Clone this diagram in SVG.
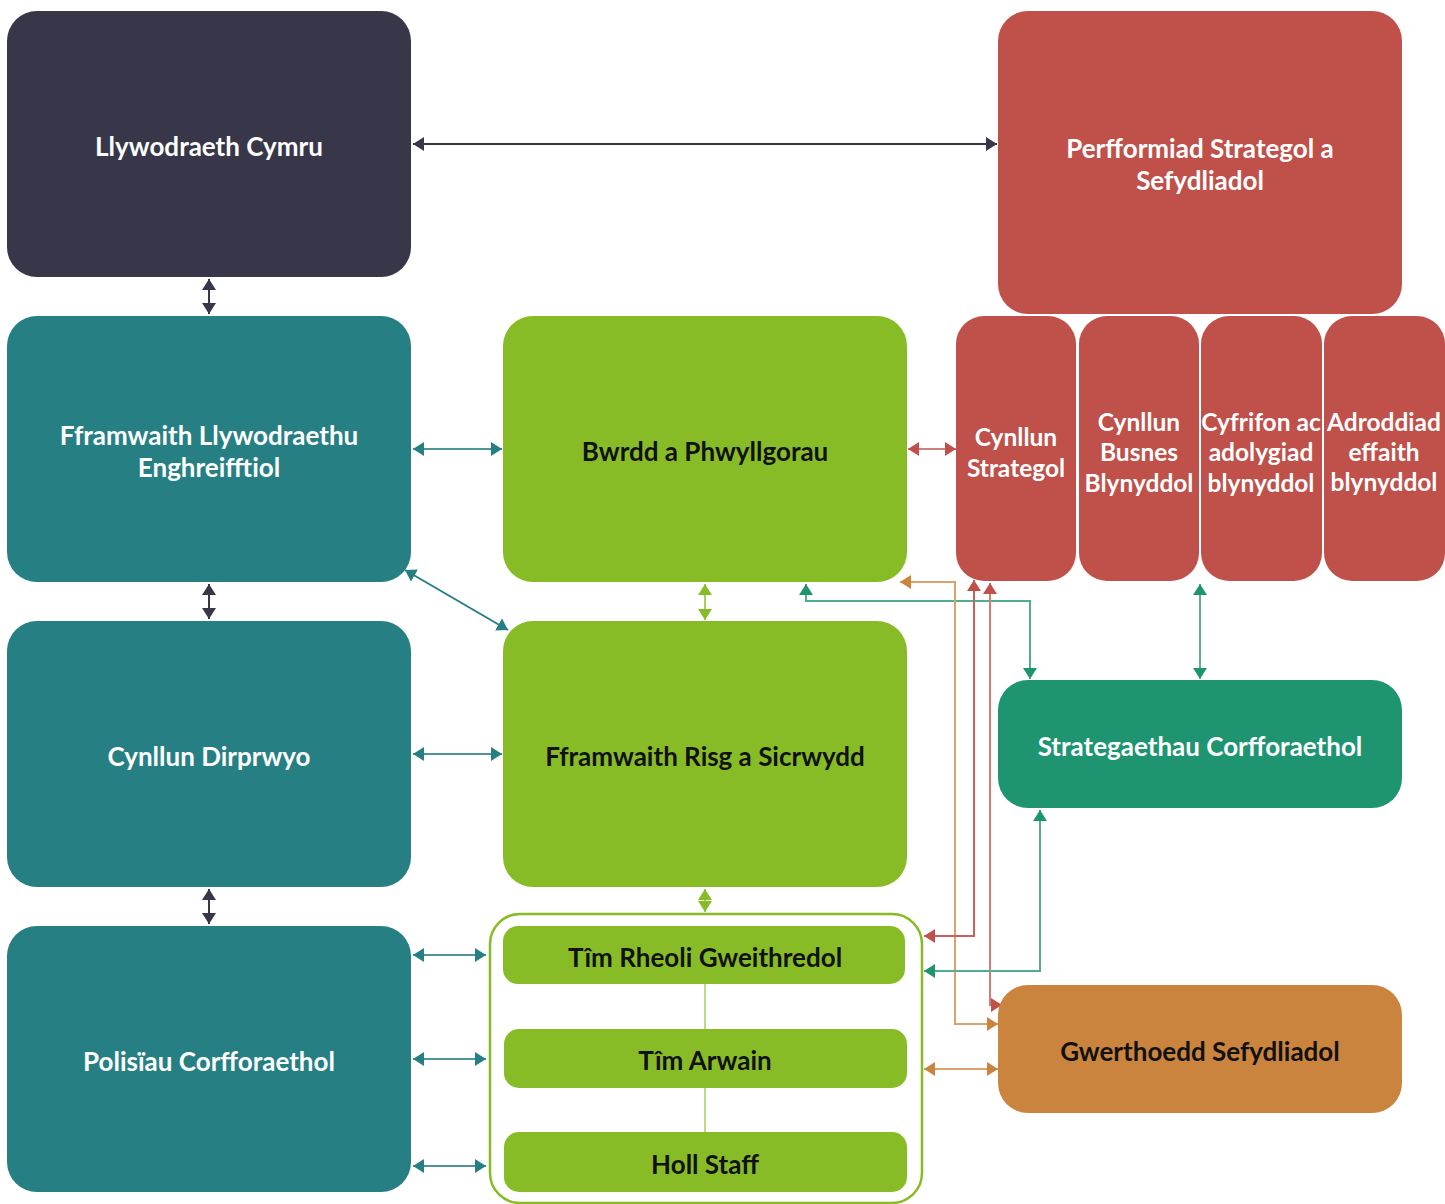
<svg xmlns="http://www.w3.org/2000/svg" width="1445" height="1204" viewBox="0 0 1445 1204">
<style>
.t{font-family:Lato,"Open Sans","Liberation Sans",sans-serif;font-weight:700;font-size:26px;text-anchor:middle;dominant-baseline:central}
.w{fill:#ffffff}
.k{fill:#111111}
.s{font-size:24.5px}
.c{fill:none;stroke-width:2}
</style>
<defs>
<marker id="mD" viewBox="0 0 11 14" refX="11" refY="7" markerWidth="11" markerHeight="14" markerUnits="userSpaceOnUse" orient="auto-start-reverse"><path d="M0,0L11,7L0,14z" fill="#373749"/></marker>
<marker id="mT" viewBox="0 0 11 14" refX="11" refY="7" markerWidth="11" markerHeight="14" markerUnits="userSpaceOnUse" orient="auto-start-reverse"><path d="M0,0L11,7L0,14z" fill="#267F83"/></marker>
<marker id="mG" viewBox="0 0 11 14" refX="11" refY="7" markerWidth="11" markerHeight="14" markerUnits="userSpaceOnUse" orient="auto-start-reverse"><path d="M0,0L11,7L0,14z" fill="#88BC27"/></marker>
<marker id="mR" viewBox="0 0 11 14" refX="11" refY="7" markerWidth="11" markerHeight="14" markerUnits="userSpaceOnUse" orient="auto-start-reverse"><path d="M0,0L11,7L0,14z" fill="#C0504A"/></marker>
<marker id="mE" viewBox="0 0 11 14" refX="11" refY="7" markerWidth="11" markerHeight="14" markerUnits="userSpaceOnUse" orient="auto-start-reverse"><path d="M0,0L11,7L0,14z" fill="#1E9470"/></marker>
<marker id="mO" viewBox="0 0 11 14" refX="11" refY="7" markerWidth="11" markerHeight="14" markerUnits="userSpaceOnUse" orient="auto-start-reverse"><path d="M0,0L11,7L0,14z" fill="#CB843E"/></marker>
</defs>

<g id="connectors">
<line class="c" x1="413" y1="144" x2="997" y2="144" stroke="#373749" marker-start="url(#mD)" marker-end="url(#mD)"/>
<line class="c" x1="209" y1="279" x2="209" y2="314" stroke="#373749" marker-start="url(#mD)" marker-end="url(#mD)"/>
<line class="c" x1="209" y1="584" x2="209" y2="619" stroke="#373749" marker-start="url(#mD)" marker-end="url(#mD)"/>
<line class="c" x1="209" y1="889" x2="209" y2="924" stroke="#373749" marker-start="url(#mD)" marker-end="url(#mD)"/>
<line class="c" x1="413" y1="449" x2="502" y2="449" stroke="#4E9599" marker-start="url(#mT)" marker-end="url(#mT)"/>
<line class="c" x1="405" y1="570" x2="508" y2="630" stroke="#267F83" marker-start="url(#mT)" marker-end="url(#mT)"/>
<line class="c" x1="413" y1="754" x2="502" y2="754" stroke="#4E9599" marker-start="url(#mT)" marker-end="url(#mT)"/>
<line class="c" x1="413" y1="955" x2="486" y2="955" stroke="#4E9599" marker-start="url(#mT)" marker-end="url(#mT)"/>
<line class="c" x1="413" y1="1059" x2="486" y2="1059" stroke="#4E9599" marker-start="url(#mT)" marker-end="url(#mT)"/>
<line class="c" x1="413" y1="1166" x2="486" y2="1166" stroke="#4E9599" marker-start="url(#mT)" marker-end="url(#mT)"/>
<line class="c" x1="908" y1="449" x2="956" y2="449" stroke="#D0807B" marker-start="url(#mR)" marker-end="url(#mR)"/>
<line class="c" x1="705" y1="584" x2="705" y2="620" stroke="#A6CF5E" marker-start="url(#mG)" marker-end="url(#mG)"/>
<line class="c" x1="705" y1="889" x2="705" y2="912" stroke="#A6CF5E" marker-start="url(#mG)" marker-end="url(#mG)"/>
<line class="c" x1="1200" y1="584" x2="1200" y2="679" stroke="#5BB195" marker-start="url(#mE)" marker-end="url(#mE)"/>
<polyline class="c" points="806,584 806,601 1030,601 1030,679" stroke="#4FAE92" marker-start="url(#mE)" marker-end="url(#mE)"/>
<polyline class="c" points="900,582 955,582 955,1024 998,1024" stroke="#DBA26D" marker-start="url(#mO)" marker-end="url(#mO)"/>
<polyline class="c" points="974,580 974,936 924,936" stroke="#C9605A" marker-start="url(#mR)" marker-end="url(#mR)"/>
<polyline class="c" points="990,583 990,1005 1002,1005" stroke="#D57A75" marker-start="url(#mR)" marker-end="url(#mR)"/>
<polyline class="c" points="1040,810 1040,971 924,971" stroke="#4FAE92" marker-start="url(#mE)" marker-end="url(#mE)"/>
<line class="c" x1="924" y1="1069" x2="998" y2="1069" stroke="#DBA26D" marker-start="url(#mO)" marker-end="url(#mO)"/>
<line x1="705" y1="984" x2="705" y2="1029" stroke="#A6CF5E" stroke-width="1.5"/>
<line x1="705" y1="1088" x2="705" y2="1132" stroke="#A6CF5E" stroke-width="1.5"/>
</g>

<g id="n-llywodraeth"><rect x="7" y="11" width="404" height="266" rx="30" fill="#373749"/><text class="t w" x="209" y="146">Llywodraeth Cymru</text></g>
<g id="n-perfformiad"><rect x="998" y="11" width="404" height="303" rx="30" fill="#C0504A"/><text class="t w" x="1200" y="148">Perfformiad Strategol a</text><text class="t w" x="1200" y="180">Sefydliadol</text></g>
<g id="n-fframwaith-llyw"><rect x="7" y="316" width="404" height="266" rx="30" fill="#267F83"/><text class="t w" x="209" y="435">Fframwaith Llywodraethu</text><text class="t w" x="209" y="467">Enghreifftiol</text></g>
<g id="n-bwrdd"><rect x="503" y="316" width="404" height="266" rx="30" fill="#88BC27"/><text class="t k" x="705" y="451">Bwrdd a Phwyllgorau</text></g>
<g id="n-cynllun-strategol"><rect x="956" y="316" width="120" height="265" rx="28" fill="#C0504A"/><text class="t w s" x="1016" y="436">Cynllun</text><text class="t w s" x="1016" y="467">Strategol</text></g>
<g id="n-cynllun-busnes"><rect x="1079" y="316" width="120" height="265" rx="28" fill="#C0504A"/><text class="t w s" x="1139" y="421">Cynllun</text><text class="t w s" x="1139" y="451">Busnes</text><text class="t w s" x="1139" y="482">Blynyddol</text></g>
<g id="n-cyfrifon"><rect x="1201" y="316" width="121" height="265" rx="28" fill="#C0504A"/><text class="t w s" x="1261" y="421">Cyfrifon ac</text><text class="t w s" x="1261" y="451">adolygiad</text><text class="t w s" x="1261" y="482">blynyddol</text></g>
<g id="n-adroddiad"><rect x="1324" y="316" width="121" height="265" rx="28" fill="#C0504A"/><text class="t w s" x="1384" y="421">Adroddiad</text><text class="t w s" x="1384" y="451">effaith</text><text class="t w s" x="1384" y="481">blynyddol</text></g>
<g id="n-dirprwyo"><rect x="7" y="621" width="404" height="266" rx="30" fill="#267F83"/><text class="t w" x="209" y="756">Cynllun Dirprwyo</text></g>
<g id="n-risg"><rect x="503" y="621" width="404" height="266" rx="30" fill="#88BC27"/><text class="t k" x="705" y="756">Fframwaith Risg a Sicrwydd</text></g>
<g id="n-strategaethau"><rect x="998" y="680" width="404" height="128" rx="30" fill="#1E9470"/><text class="t w" x="1200" y="746">Strategaethau Corfforaethol</text></g>
<g id="n-polisiau"><rect x="7" y="926" width="404" height="266" rx="30" fill="#267F83"/><text class="t w" x="209" y="1061">Polisïau Corfforaethol</text></g>
<g id="n-container"><rect x="490" y="914" width="432" height="289" rx="30" fill="none" stroke="#88BC27" stroke-width="2.5"/></g>
<g id="n-tim-rheoli"><rect x="503" y="926" width="402" height="58" rx="15" fill="#88BC27"/><text class="t k" x="705" y="957">Tîm Rheoli Gweithredol</text></g>
<g id="n-tim-arwain"><rect x="504" y="1029" width="403" height="59" rx="15" fill="#88BC27"/><text class="t k" x="705" y="1060">Tîm Arwain</text></g>
<g id="n-holl-staff"><rect x="504" y="1132" width="403" height="60" rx="15" fill="#88BC27"/><text class="t k" x="705" y="1164">Holl Staff</text></g>
<g id="n-gwerthoedd"><rect x="998" y="985" width="404" height="128" rx="30" fill="#CB843E"/><text class="t k" x="1200" y="1051">Gwerthoedd Sefydliadol</text></g>
</svg>
